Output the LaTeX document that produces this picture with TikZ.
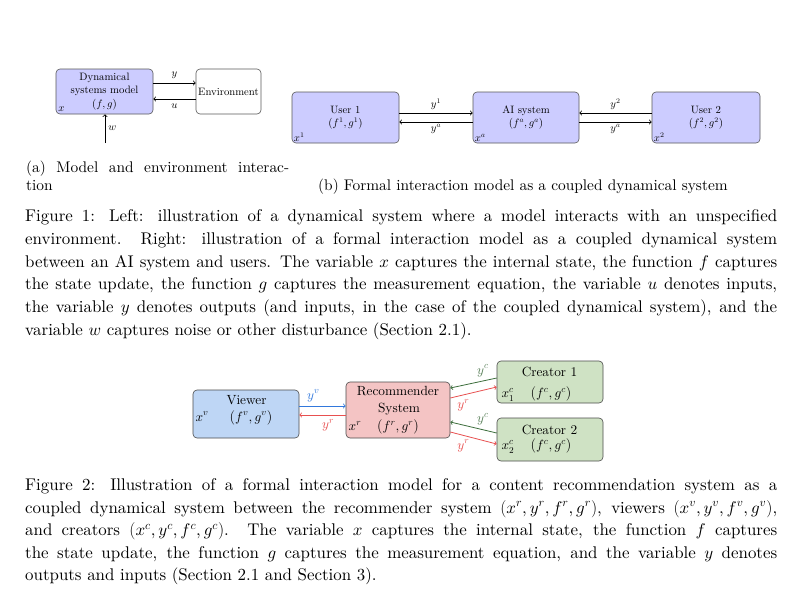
\documentclass[tikz,border=0pt]{standalone}
\usepackage{fontspec}
\setmainfont{lmroman10-regular.otf}[ItalicFont=lmroman10-italic.otf, BoldFont=lmroman10-bold.otf]
\DeclareFontShape{OML}{cmm}{m}{it}{<->cmmi10}{}
\usetikzlibrary{calc}
\definecolor{lav}{RGB}{204,204,255}
\definecolor{vfill}{RGB}{190,214,245}
\definecolor{rfill}{RGB}{244,196,196}
\definecolor{gfill}{RGB}{207,226,196}
\definecolor{bluec}{RGB}{50,120,220}
\definecolor{redc}{RGB}{232,80,80}
\definecolor{greenc}{RGB}{60,110,60}
\definecolor{greenl}{RGB}{85,125,85}
\newcommand\capfont{\fontsize{16.9}{22.8}\selectfont}
\newcommand\subcapfont{\fontsize{15.4}{18}\selectfont}
\newcommand\dgfont{\fontsize{10.7}{12.5}\selectfont}
\newcommand\dgfontb{\fontsize{13.3}{16}\selectfont}
\tikzset{
  capline/.style={anchor=base west, inner sep=0pt, font=\capfont},
  subcapline/.style={anchor=base west, inner sep=0pt, font=\subcapfont},
  fbox/.style={draw=black!65, fill=lav, rounded corners=4pt, line width=0.6pt, align=center, font=\dgfont, inner sep=0pt},
  ebox/.style={draw=black!65, fill=white, rounded corners=4pt, line width=0.6pt, font=\dgfont, inner sep=0pt},
  gbox/.style={draw=black!70, rounded corners=4pt, line width=0.6pt, inner sep=0pt},
  txtone/.style={font=\dgfont, inner sep=0pt},
  txttwo/.style={font=\dgfontb, inner sep=0pt, anchor=base},
  arrk/.style={->, line width=0.8pt},
  arrb/.style={->, line width=0.8pt, draw=bluec},
  arrr/.style={->, line width=0.8pt, draw=redc},
  arrg/.style={->, line width=0.8pt, draw=greenc},
  labone/.style={font=\dgfont, inner sep=4pt},
  labtwo/.style={font=\dgfontb, inner sep=4pt},
}
\begin{document}
\begin{tikzpicture}[x=1pt,y=-1pt]
\useasboundingbox (0,0) rectangle (800,600);
\fill[white] (0,0) rectangle (800,600);

% ---------- Figure 1a ----------
\node[fbox, minimum width=97pt, minimum height=45pt] (model) at (104.5,91.5) {Dynamical\\systems model\\[1.5pt]$(f,g)$};
\node[ebox, minimum width=65pt, minimum height=45pt] (env) at (228.5,91.5) {Environment};
\node[txtone, anchor=south west, inner sep=2.5pt] (xm) at (model.south west) {$x$};
\coordinate (wsrc) at (105,143);
\draw[arrk] ([yshift=8.5pt]model.east) -- ([yshift=8.5pt]model.east -| env.west) node[labone, midway, above] (ly) {$y$};
\draw[arrk] ([yshift=-7.5pt]env.west) -- ([yshift=-7.5pt]env.west -| model.east) node[labone, midway, below] (lu) {$u$};
\draw[arrk] (wsrc) -- (wsrc |- model.south) node[labone, midway, right, inner sep=3pt] (lw) {$w$};

% ---------- Figure 1b ----------
\node[fbox, minimum width=107pt, minimum height=51pt] (u1) at (345.5,117.5) {User 1\\[1pt]$(f^1,g^1)$};
\node[fbox, minimum width=106pt, minimum height=51pt] (ai) at (526,117.5) {AI system\\[1pt]$(f^a,g^a)$};
\node[fbox, minimum width=108pt, minimum height=51pt] (u2) at (706,117.5) {User 2\\[1pt]$(f^2,g^2)$};
\node[txtone, anchor=south west, inner sep=2pt] (xu1) at (u1.south west) {$x^1$};
\node[txtone, anchor=south west, inner sep=2pt] (xai) at (ai.south west) {$x^a$};
\node[txtone, anchor=south west, inner sep=2pt] (xu2) at (u2.south west) {$x^2$};
\draw[arrk] ([yshift=4.5pt]u1.east) -- ([yshift=4.5pt]u1.east -| ai.west) node[labone, midway, above, inner sep=3pt] (ly1) {$y^1$};
\draw[arrk] ([yshift=-4.5pt]ai.west) -- ([yshift=-4.5pt]ai.west -| u1.east) node[labone, midway, below, inner sep=2pt] (lya1) {$y^a$};
\draw[arrk] ([yshift=4.5pt]u2.west) -- ([yshift=4.5pt]u2.west -| ai.east) node[labone, midway, above, inner sep=3pt] (ly2) {$y^2$};
\draw[arrk] ([yshift=-4.5pt]ai.east) -- ([yshift=-4.5pt]ai.east -| u2.west) node[labone, midway, below, inner sep=2pt] (lya2) {$y^a$};

% ---------- subcaptions ----------
\node[subcapline] (sa1) at (26,172) {\makebox[263pt][s]{(a) Model and environment interac-}};
\node[subcapline] (sa2) at (26,190) {tion};
\node[subcapline] (sb) at (318,190) {(b) Formal interaction model as a coupled dynamical system};

% ---------- Figure 1 caption ----------
\node[capline] (f1a) at (25,221.5) {\makebox[752pt][s]{Figure 1: Left: illustration of a dynamical system where a model interacts with an unspecified}};
\node[capline] (f1b) at (25,244.3) {\makebox[752pt][s]{environment. Right: illustration of a formal interaction model as a coupled dynamical system}};
\node[capline] (f1c) at (25,267.1) {\makebox[752pt][s]{between an AI system and users. The variable $x$ captures the internal state, the function $f$ captures}};
\node[capline] (f1d) at (25,289.9) {\makebox[752pt][s]{the state update, the function $g$ captures the measurement equation, the variable $u$ denotes inputs,}};
\node[capline] (f1e) at (25,312.7) {\makebox[752pt][s]{the variable $y$ denotes outputs (and inputs, in the case of the coupled dynamical system), and the}};
\node[capline] (f1f) at (25,335.5) {variable $w$ captures noise or other disturbance (Section 2.1).};

% ---------- Figure 2 ----------
\node[gbox, fill=vfill, minimum width=106pt, minimum height=48pt] (viewer) at (246,414) {};
\node[gbox, fill=rfill, minimum width=104pt, minimum height=56pt] (rec) at (398,410) {};
\node[gbox, fill=gfill, minimum width=106pt, minimum height=42pt] (c1) at (550,382) {};
\node[gbox, fill=gfill, minimum width=106pt, minimum height=43pt] (c2) at (550,439.5) {};

\node[txttwo] (vname) at (246.5,404.5) {Viewer};
\node[txttwo] (vx) at (202,421) {$x^v$};
\node[txttwo] (vfg) at (251,421) {$(f^v,g^v)$};
\node[txttwo] (rn1) at (398,395.5) {Recommender};
\node[txttwo] (rn2) at (399,412.5) {System};
\node[txttwo] (rx) at (355,430.5) {$x^r$};
\node[txttwo] (rfg) at (398,430.5) {$(f^r,g^r)$};
\node[txttwo] (c1n) at (549.5,376.5) {Creator 1};
\node[txttwo] (c1x) at (508,397.5) {$x^c_1$};
\node[txttwo] (c1fg) at (551,397.5) {$(f^c,g^c)$};
\node[txttwo] (c2n) at (549.5,434.5) {Creator 2};
\node[txttwo] (c2x) at (508,449.5) {$x^c_2$};
\node[txttwo] (c2fg) at (551,449.5) {$(f^c,g^c)$};

\draw[arrb] ([yshift=8pt]viewer.east) -- ([yshift=8pt]viewer.east -| rec.west) node[labtwo, pos=0.3, above, text=bluec] (lyv) {$y^v$};
\draw[arrr] ([yshift=-5pt]rec.west) -- ([yshift=-5pt]rec.west -| viewer.east) node[labtwo, pos=0.38, below, text=redc] (lyr0) {$y^r$};
\draw[arrg] ([yshift=4pt]c1.west) -- ([yshift=22pt]rec.east) node[labtwo, pos=0.3, above, text=greenl] (lyc1) {$y^c$};
\draw[arrr] ([yshift=12pt]rec.east) -- ([yshift=-5pt]c1.west) node[labtwo, pos=0.28, below, text=redc] (lyr1) {$y^r$};
\draw[arrg] ([yshift=6.5pt]c2.west) -- ([yshift=-12pt]rec.east) node[labtwo, pos=0.3, above, text=greenl] (lyc2) {$y^c$};
\draw[arrr] ([yshift=-22pt]rec.east) -- ([yshift=-4.5pt]c2.west) node[labtwo, pos=0.28, below, text=redc] (lyr2) {$y^r$};

% ---------- Figure 2 caption ----------
\node[capline] (f2a) at (25,490.5) {\makebox[752pt][s]{Figure 2: Illustration of a formal interaction model for a content recommendation system as a}};
\node[capline] (f2b) at (25,513.1) {\makebox[752pt][s]{coupled dynamical system between the recommender system $(x^r,y^r,f^r,g^r)$, viewers $(x^v,y^v,f^v,g^v)$,}};
\node[capline] (f2c) at (25,535.7) {\makebox[752pt][s]{and creators $(x^c,y^c,f^c,g^c)$. The variable $x$ captures the internal state, the function $f$ captures}};
\node[capline] (f2d) at (25,558.3) {\makebox[752pt][s]{the state update, the function $g$ captures the measurement equation, and the variable $y$ denotes}};
\node[capline] (f2e) at (25,580.9) {outputs and inputs (Section 2.1 and Section 3).};
\end{tikzpicture}
\end{document}
